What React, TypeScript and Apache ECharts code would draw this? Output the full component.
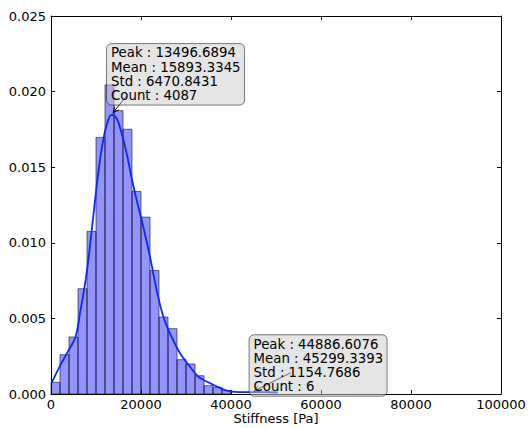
import React, { useEffect, useRef } from "react";
import * as echarts from "echarts";

// Histogram bins (Stiffness, Pa) and their normalised heights
const binStarts = [0, 2000, 4000, 6000, 8000, 10000, 12000, 14000, 16000, 18000, 20000, 22000, 24000, 26000, 28000, 30000, 32000, 34000, 36000, 38000];
const binWidth = 2000;
const binDensity = [0.00077, 0.0026, 0.00377, 0.00696, 0.01075, 0.01697, 0.02044, 0.01874, 0.01751, 0.01339, 0.0117, 0.00817, 0.00509, 0.00432, 0.00227, 0.00198, 0.00121, 0.00055, 0.00044, 0.00024];

// Kernel density estimate curve
const kdeX = [100, 2150, 4000, 5480, 6440, 7920, 9390, 10500, 11610, 12720, 13500, 14580, 15690, 16800, 17910, 19020, 20490, 21980, 23460, 24930, 26420, 28640, 30850, 32700, 34560, 37510, 39730, 42000, 44887, 47500, 50400];
const kdeY = [0.00072, 0.00194, 0.00293, 0.00381, 0.00535, 0.008, 0.01174, 0.01461, 0.01681, 0.01813, 0.01846, 0.01824, 0.01725, 0.01593, 0.0143, 0.01284, 0.01108, 0.0091, 0.0069, 0.00514, 0.00403, 0.00271, 0.00182, 0.00116, 0.00083, 0.0004, 0.00017, 0.00012, 0.00013, 0.00012, 0.0001];

// Annotations
const annotPeaks = [13496.6894, 44886.6076];
const annotPeakDensity = [0.01846, 0.00013];
const annotTexts = [
  ["Peak : 13496.6894", "Mean : 15893.3345", "Std : 6470.8431", "Count : 4087"],
  ["Peak : 44886.6076", "Mean : 45299.3393", "Std : 1154.7686", "Count : 6"],
];

const xMin = 0;
const xMax = 100000;
const xInterval = 20000;
const yMin = 0;
const yMax = 0.025;
const yInterval = 0.005;
const xName = "Stiffness [Pa]";

const FONT = "DejaVu Sans";

// pixel layout of the annotation boxes relative to their target point
const annotLayout = [
  { dx: -5.2, dy: -71.3, ax: 14.8, ay: -19, tx: 1.5, ty: -2.3 },
  { dx: -3.9, dy: -57.3, ax: 37.8, ay: -19.3, tx: 1, ty: -1 },
];
const BOX_W = 138;
const BOX_H = 61.5;

export default function App() {
  const ref = useRef<HTMLDivElement>(null);

  useEffect(() => {
    if (!ref.current) return;
    const chart = echarts.init(ref.current, undefined, { renderer: "svg" });

    const barData = binStarts.map((s, i) => [s, s + binWidth, binDensity[i]]);
    const lineData = kdeX.map((x, i) => [x, kdeY[i]]);

    const labelStyle = { fontFamily: FONT, fontSize: 13, color: "#000" };
    const axisLine = { show: true, onZero: false, lineStyle: { color: "#000", width: 1 } };
    const axisTick = { show: true, inside: true, length: 4, lineStyle: { color: "#000", width: 1 } };

    chart.setOption({
      animation: false,
      backgroundColor: "#fff",
      grid: { left: 51, right: 27, top: 16, bottom: 34, containLabel: false, outerBoundsMode: "none" },
      xAxis: [
        {
          type: "value",
          min: xMin,
          max: xMax,
          interval: xInterval,
          position: "bottom",
          axisLine,
          axisTick,
          splitLine: { show: false },
          axisLabel: { ...labelStyle, margin: 4, formatter: (v: number) => String(v) },
          name: xName,
          nameLocation: "middle",
          nameGap: 17,
          nameMoveOverlap: false,
          nameTextStyle: { ...labelStyle, verticalAlign: "top", lineHeight: 14 },
        },
        {
          type: "value",
          min: xMin,
          max: xMax,
          interval: xInterval,
          position: "top",
          axisLine,
          axisTick,
          splitLine: { show: false },
          axisLabel: { show: false },
        },
      ],
      yAxis: [
        {
          type: "value",
          min: yMin,
          max: yMax,
          interval: yInterval,
          position: "left",
          axisLine,
          axisTick,
          splitLine: { show: false },
          axisLabel: { ...labelStyle, margin: 5, formatter: (v: number) => v.toFixed(3) },
        },
        {
          type: "value",
          min: yMin,
          max: yMax,
          interval: yInterval,
          position: "right",
          axisLine,
          axisTick,
          splitLine: { show: false },
          axisLabel: { show: false },
        },
      ],
      series: [
        {
          type: "custom",
          xAxisIndex: 0,
          yAxisIndex: 0,
          data: barData,
          encode: { x: [0, 1], y: 2 },
          renderItem: (params: any, api: any) => {
            const p0 = api.coord([api.value(0), api.value(2)]);
            const p1 = api.coord([api.value(1), 0]);
            return {
              type: "rect",
              shape: { x: p0[0], y: p0[1], width: p1[0] - p0[0], height: p1[1] - p0[1] },
              style: { fill: "rgba(0,0,255,0.42)", stroke: "rgba(0,0,0,0.55)", lineWidth: 1 },
            };
          },
          z: 2,
        },
        {
          type: "line",
          xAxisIndex: 0,
          yAxisIndex: 0,
          data: lineData,
          smooth: 0.4,
          showSymbol: false,
          symbol: "none",
          lineStyle: { color: "#0a28ff", width: 1.8 },
          z: 3,
        },
      ],
    });

    const els: any[] = [];
    annotPeaks.forEach((pk, i) => {
      const p = chart.convertToPixel({ xAxisIndex: 0, yAxisIndex: 0 }, [pk, annotPeakDensity[i]]) as number[];
      const L = annotLayout[i];
      const bx = p[0] + L.dx;
      const by = p[1] + L.dy;
      const sx = p[0] + L.ax;
      const sy = p[1] + L.ay;
      const ex = p[0] + L.tx;
      const ey = p[1] + L.ty;
      const ang = Math.atan2(ey - sy, ex - sx);
      const hl = 6;
      const ha = 0.45;
      els.push({
        type: "line",
        shape: { x1: sx, y1: sy, x2: ex, y2: ey },
        style: { stroke: "#000", lineWidth: 1 },
        z: 10,
      });
      els.push({
        type: "polyline",
        shape: {
          points: [
            [ex - hl * Math.cos(ang - ha), ey - hl * Math.sin(ang - ha)],
            [ex, ey],
            [ex - hl * Math.cos(ang + ha), ey - hl * Math.sin(ang + ha)],
          ],
        },
        style: { stroke: "#000", fill: null, lineWidth: 1 },
        z: 10,
      });
      els.push({
        type: "rect",
        shape: { x: bx, y: by, width: BOX_W, height: BOX_H, r: 5 },
        style: { fill: "rgba(204,204,204,0.5)", stroke: "rgba(0,0,0,0.5)", lineWidth: 1 },
        z: 11,
      });
      annotTexts[i].forEach((t, j) => {
        els.push({
          type: "text",
          x: bx + 4.5,
          y: by + 9.3 + j * 14.3,
          style: {
            text: t,
            fontFamily: FONT,
            fontSize: 13.3,
            fill: "#000",
            textVerticalAlign: "middle",
            verticalAlign: "middle",
          },
          z: 12,
        });
      });
    });
    chart.setOption({ graphic: { elements: els } });

    return () => chart.dispose();
  }, []);

  return (
    <div
      ref={ref}
      style={{ position: "fixed", left: 0, top: 0, width: 528, height: 428, background: "#fff" }}
    />
  );
}
